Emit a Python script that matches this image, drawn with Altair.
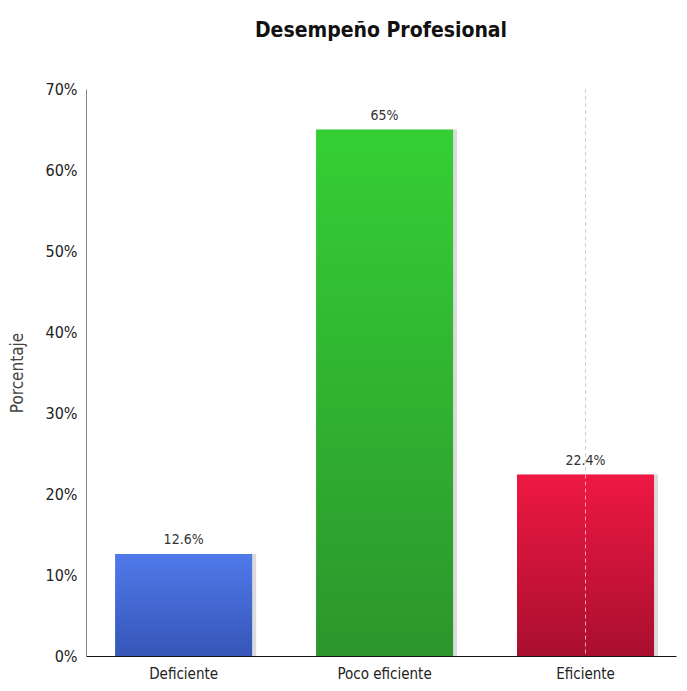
import altair as alt
import pandas as pd

categories = ["Deficiente", "Poco eficiente", "Eficiente"]
values = [12.6, 65, 22.4]
labels = ["12.6%", "65%", "22.4%"]
y_ticks = [0, 10, 20, 30, 40, 50, 60, 70]

top_colors = ["#5079ea", "#35cf35", "#ee1843"]
bottom_colors = ["#3656b8", "#2c962c", "#a90f2e"]

df = pd.DataFrame({"cat": categories, "val": values, "lab": labels})

FONT = "DejaVu Sans Condensed, sans-serif"

xscale = alt.Scale(domain=categories, paddingInner=0.318, paddingOuter=0.127, align=0.57)
yscale = alt.Scale(domain=[0, 70], nice=False)

xenc = alt.X("cat:N", scale=xscale, sort=categories,
             axis=alt.Axis(title=None, labelAngle=0, ticks=False, domainColor="#111111",
                           domainWidth=1.2, labelFontSize=15, labelColor="#222222",
                           labelPadding=10, labelFont=FONT))
yenc = alt.Y("val:Q", scale=yscale,
             axis=alt.Axis(title="Porcentaje", values=y_ticks, grid=False, ticks=False,
                           domainColor="#888888", labelExpr="datum.value + '%'",
                           labelFontSize=16, labelColor="#222222", labelPadding=9,
                           labelFont=FONT, titleFont="DejaVu Sans Condensed, sans-serif",
                           titleFontSize=17, titleFontWeight="normal",
                           titleColor="#444444", titlePadding=19))

base = alt.Chart(df)

shadow = base.mark_bar(color="#888888", opacity=0.3, xOffset=4).encode(x=xenc, y=yenc)

layers = [shadow]
for i, c in enumerate(categories):
    grad = alt.Gradient(gradient="linear", x1=0, y1=0, x2=0, y2=1,
                        stops=[alt.GradientStop(color=top_colors[i], offset=0),
                               alt.GradientStop(color=bottom_colors[i], offset=1)])
    layers.append(
        base.transform_filter(alt.datum.cat == c)
        .mark_bar(color=grad)
        .encode(x=xenc, y=yenc)
    )

text = base.mark_text(dy=-14, fontSize=14, color="#333333", font=FONT).encode(
    x=xenc, y=yenc, text="lab:N")

# dashed crosshair through the last category
cross_cat = categories[2]
cross_val = values[2]
rule_top = alt.Chart(pd.DataFrame({"cat": [cross_cat], "lo": [cross_val], "hi": [70]})).mark_rule(
    color="#cfcfcf", strokeDash=[4, 3]).encode(
    x=xenc, y=alt.Y("hi:Q", scale=yscale), y2="lo:Q")
rule_bar = alt.Chart(pd.DataFrame({"cat": [cross_cat], "lo": [0], "hi": [cross_val]})).mark_rule(
    color="#f4a0b2", strokeDash=[4, 3]).encode(
    x=xenc, y=alt.Y("hi:Q", scale=yscale), y2="lo:Q")

chart = alt.layer(*layers, rule_top, rule_bar, text).properties(
    width=590, height=567,
    title=alt.Title("Desempeño Profesional", fontSize=21, fontWeight="bold",
                    font=FONT, color="#111111", offset=40),
    autosize=alt.AutoSizeParams(type="none"),
    padding={"left": 78, "top": 81, "right": 3, "bottom": 27},
).configure_view(stroke=None)

chart.save("out.html", embed_options={"renderer": "svg", "actions": False})
